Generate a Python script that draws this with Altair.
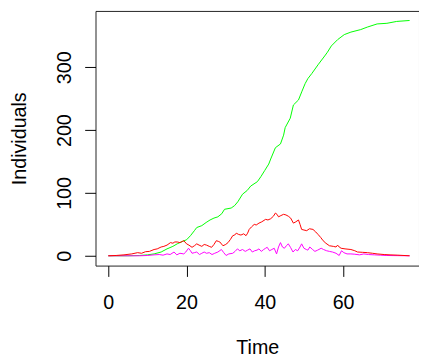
import altair as alt
import pandas as pd

# Green series (cumulative)
green_t = [0, 5, 8, 10, 11.7, 13.5, 15, 16.5, 17.6, 19, 20, 21, 22, 22.6, 23.9, 25, 26, 27, 28, 29,
           29.7, 31.4, 32.3, 33.1, 34.3, 35.5, 36.4, 38.1, 39, 40, 41, 41.5, 42.7, 44, 44.8, 45.2,
           46.5, 47.3, 48.6, 49.5, 50.3, 51, 52, 53.6, 55.3, 56, 57, 58.6, 60.3, 62, 64.5, 66.2,
           68.7, 71.2, 73.7, 77]
green_v = [0, 0, 0.5, 1.5, 3, 6, 11, 15, 19, 23, 25.5, 32, 40, 45, 48, 53, 57, 60, 62, 67,
           74, 76, 80, 86, 98, 104, 111, 118, 126, 136, 146, 154, 172, 178, 192, 204,
           219, 240, 248, 262, 274, 282, 290, 304, 318, 324, 334, 344, 352, 356, 360, 364,
           369, 370, 373, 374.5]

# Red series
red_t = [0, 2, 4, 6, 7.5, 8.5, 9.5, 10.5, 11.7, 12.5, 13.5, 14.2, 15, 15.9, 16.5, 17, 17.6, 18.3,
         19.3, 20, 20.6, 21.4, 22, 22.6, 23.2, 23.9, 24.5, 25.1, 25.8, 26.4, 27, 27.6, 28.1, 28.5,
         29.3, 30, 30.6, 31.2, 31.8, 32.3, 32.7, 33.3, 33.9, 34.6, 35.2, 35.6, 36, 36.6, 37.3, 37.8,
         38.5, 39.2, 40.2, 40.8, 41.5, 42.2, 42.7, 43.1, 43.5, 44.1, 44.8, 45.4, 46, 46.6, 47.3,
         47.9, 48.6, 49, 49.4, 50, 50.7, 51.4, 52.3, 53, 53.6, 54.3, 54.9, 55.6, 56.5, 57.5, 58.2,
         58.6, 59, 59.5, 60.5, 62, 63, 63.7, 65, 66.2, 67.5, 68.7, 70.5, 72, 74, 77]
red_v = [0, 0.5, 1.5, 3, 5, 4, 6.5, 7, 10, 11, 14, 15, 17, 21, 20, 22, 22, 21,
         24, 19, 17, 13.5, 16, 19, 17, 15, 18, 17, 15, 13.5, 18, 24, 23, 22,
         16, 18, 21, 26, 32, 33, 36, 34, 33, 35, 32, 36, 42, 46, 50, 49,
         52, 54, 58, 57, 59, 63, 68, 66, 62, 64, 66, 65, 63, 60, 52,
         54, 57, 50, 42, 41, 40, 43, 42, 38, 34, 29, 24, 20, 16, 15, 14,
         17, 14, 12, 11, 10, 8, 6, 5.5, 5, 4, 3, 2, 1.5, 1, 0]

# Magenta series
mag_t = [0, 8, 10, 11.7, 13, 14, 15, 15.8, 16.8, 17.5, 18.3, 19.3, 19.8, 20.5, 21, 21.4, 22, 22.6,
         23.3, 23.9, 24.5, 25.1, 25.8, 26.5, 27.2, 28, 28.9, 29.5, 30.1, 30.8, 31.8, 32.4, 33, 33.6,
         34.3, 35, 35.6, 36.2, 36.8, 37.4, 38, 38.5, 39.1, 39.7, 40.2, 40.6, 41.2, 41.8, 42.4, 43,
         43.5, 44, 44.5, 45, 45.5, 46, 46.6, 47.2, 47.8, 48.4, 49, 49.4, 50, 50.6, 51, 51.5, 52.2,
         52.8, 53.5, 54.4, 55, 55.8, 56.5, 57.3, 58.2, 59, 59.6, 60.2, 61, 62, 63, 64.2, 65.3,
         66.5, 68, 69.5, 71, 73, 77]
mag_v = [0, 0, 0.5, 1.5, 2, 1, 3, 2, 6, 1.5, 4, 3, 6, 12, 8, 4, 5, 6,
         2, 4, 6, 4, 5, 2, 4, 6, 10, 5, 0.5, 3, 4, 7, 11, 8,
         10, 7, 9, 11, 6, 8, 9, 11, 7, 10, 12, 13.5, 8, 10, 12, 3,
         14, 21, 14, 12, 16, 19, 13, 6, 10, 8, 14, 19, 12, 10, 9, 14, 10,
         7, 9, 12, 10, 8, 7, 6, 4, 0.5, 8, 5, 3, 3, 2.5, 1.5, 3,
         2, 1.5, 1, 0.5, 0.3, 0]

x_ticks = [0, 20, 40, 60]
y_ticks = [0, 100, 200, 300]

FONT = "Liberation Sans"

df_g = pd.DataFrame({"Time": green_t, "Individuals": green_v})
df_r = pd.DataFrame({"Time": red_t, "Individuals": red_v})
df_m = pd.DataFrame({"Time": mag_t, "Individuals": mag_v})

xs = alt.Scale(domain=[-3.27, 79.4], nice=False, zero=False)
ys = alt.Scale(domain=[-15.6, 389.7], nice=False, zero=False)

x_axis = alt.Axis(values=x_ticks, grid=False, domain=False, ticks=True, tickSize=11,
                  tickColor="black", tickWidth=1, labelPadding=33, labelBaseline="alphabetic",
                  labelAlign="center", labelFontSize=20, labelFont=FONT, labelColor="black",
                  labelFlush=False, labelOverlap=False, title="Time", titleX=164.5, titleY=89,
                  titleAlign="center", titleBaseline="alphabetic", titleFontSize=20,
                  titleFont=FONT, titleFontWeight="normal", titleColor="black")
y_axis = alt.Axis(values=y_ticks, grid=False, domain=False, ticks=True, tickSize=11,
                  tickColor="black", tickWidth=1, labelPadding=14, labelAngle=270,
                  labelAlign="center", labelBaseline="alphabetic", labelFontSize=20,
                  labelFont=FONT, labelColor="black", labelFlush=False, labelOverlap=False,
                  title="Individuals", titleAngle=270, titleX=-71, titleY=129.5,
                  titleAlign="center", titleBaseline="alphabetic", titleFontSize=20,
                  titleFont=FONT, titleFontWeight="normal", titleColor="black")


def line(df, color):
    return alt.Chart(df).mark_line(color=color, strokeWidth=1).encode(
        x=alt.X("Time:Q", scale=xs, axis=x_axis),
        y=alt.Y("Individuals:Q", scale=ys, axis=y_axis),
    )


chart = alt.layer(
    line(df_g, "#00FF00"),
    line(df_m, "#FF00FF"),
    line(df_r, "#FF0000"),
).properties(
    width=329,
    height=259,
    background="white",
    autosize=alt.AutoSizeParams(type="none"),
    padding={"left": 89, "top": 0, "right": 0, "bottom": 91},
).configure_view(stroke="#222222", strokeWidth=1)

chart.save("out.html", embed_options={"renderer": "svg", "actions": False})
